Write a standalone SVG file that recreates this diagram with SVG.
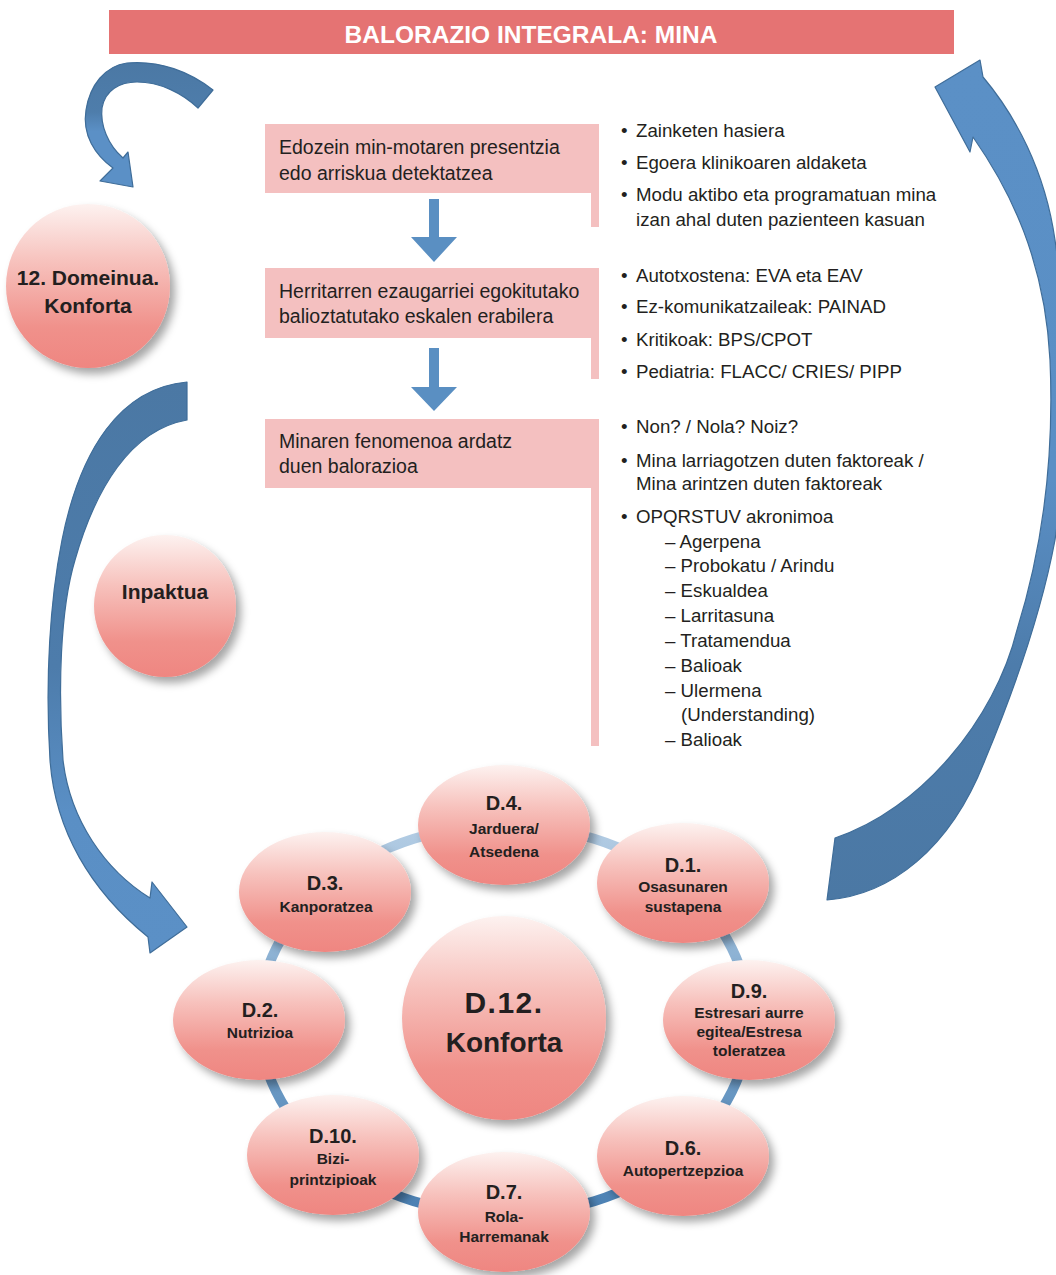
<svg xmlns="http://www.w3.org/2000/svg" width="1056" height="1275" viewBox="0 0 1056 1275">
<defs>
<style>
.t{font-family:"Liberation Sans",Arial,sans-serif;fill:#231f20}
.box{fill:#f4c0c0}
.bx{font-size:19.5px}
.bl{font-size:18.7px}
.nb{font-weight:bold;text-anchor:middle}
.h{font-size:20px}
.s{font-size:15.5px}
.node{fill:url(#pg);filter:url(#sh)}
.arr{stroke:#3f6d99;stroke-width:1.2;stroke-linejoin:round}
</style>
<linearGradient id="pg" x1="0" y1="0" x2="0" y2="1">
<stop offset="0" stop-color="#fdf2f0"/>
<stop offset="0.35" stop-color="#f7c2bd"/>
<stop offset="0.75" stop-color="#f0918b"/>
<stop offset="1" stop-color="#ef8681"/>
</linearGradient>
<linearGradient id="ring" gradientUnits="userSpaceOnUse" x1="0" y1="825" x2="0" y2="1215">
<stop offset="0" stop-color="#b4cde4"/>
<stop offset="0.5" stop-color="#7aa5cc"/>
<stop offset="1" stop-color="#4a80b3"/>
</linearGradient>
<linearGradient id="ga" gradientUnits="userSpaceOnUse" x1="0" y1="60" x2="0" y2="190">
<stop offset="0" stop-color="#4b78a4"/>
<stop offset="0.4" stop-color="#4e7dab"/>
<stop offset="0.55" stop-color="#5b90c6"/>
<stop offset="1" stop-color="#5b90c6"/>
</linearGradient>
<linearGradient id="gb" gradientUnits="userSpaceOnUse" x1="0" y1="380" x2="0" y2="955">
<stop offset="0" stop-color="#4b78a4"/>
<stop offset="0.5" stop-color="#4d7cab"/>
<stop offset="0.75" stop-color="#5a8fc5"/>
<stop offset="1" stop-color="#5b90c6"/>
</linearGradient>
<linearGradient id="gc" gradientUnits="userSpaceOnUse" x1="0" y1="60" x2="0" y2="900">
<stop offset="0" stop-color="#5b90c6"/>
<stop offset="0.5" stop-color="#5a8fc5"/>
<stop offset="0.72" stop-color="#4d7cab"/>
<stop offset="1" stop-color="#4b78a4"/>
</linearGradient>
<filter id="sh" x="-20%" y="-20%" width="150%" height="150%">
<feDropShadow dx="5" dy="6" stdDeviation="4" flood-color="#000" flood-opacity="0.35"/>
</filter>
</defs>
<rect width="1056" height="1275" fill="#fff"/>

<g id="title">
<rect x="109" y="10" width="845" height="44" fill="#e57373"/>
<text class="t" x="531" y="43" text-anchor="middle" font-size="24.5" font-weight="bold" style="fill:#fff">BALORAZIO INTEGRALA: MINA</text>
</g>

<g id="connectors">
<path class="arr" fill="url(#ga)" d="M 213,90 C 190,72 160,60 127,63 C 105,66 90,85 86,110 C 82,135 95,155 113,168 L 100,181 L 133,187 L 128,152 L 123,158 C 108,145 100,125 102,108 C 105,90 120,82 137,82 C 160,82 182,93 198,108 Z"/>
<path class="arr" fill="url(#gb)" d="M 187,382 C 120,388 80,450 62,540 C 50,600 45,680 50,760 C 55,830 90,890 148,937 L 150,953 L 187,927 L 152,882 L 150,898 C 105,870 70,820 63,760 C 58,690 60,610 75,560 C 95,490 130,430 187,420 Z"/>
<path class="arr" fill="url(#gc)" d="M 980,60 L 935,87 L 970,152 L 973,137 C 1010,190 1045,260 1050,360 C 1054,450 1045,540 1017,630 C 995,720 920,810 835,838 L 827,900 C 890,895 950,850 985,760 C 1010,700 1040,620 1055,540 C 1070,440 1068,330 1055,240 C 1045,170 1015,115 983,77 Z"/>
<path fill="#5a8fc2" d="M 429,199 H 439 V 237 H 457 L 434,262 L 411,237 H 429 Z"/>
<path fill="#5a8fc2" d="M 429,348 H 439 V 387 H 457 L 434,411 L 411,387 H 429 Z"/>
<ellipse cx="504" cy="1020" rx="245" ry="195" fill="none" stroke="url(#ring)" stroke-width="10"/>
</g>

<g id="box1">
<path class="box" d="M 265,124 H 599 V 227 H 591 V 193 H 265 Z"/>
<text class="t bx" x="279" y="154">Edozein min-motaren presentzia</text>
<text class="t bx" x="279" y="180">edo arriskua detektatzea</text>
</g>
<g id="box2">
<path class="box" d="M 265,268 H 599 V 379 H 591 V 338 H 265 Z"/>
<text class="t bx" x="279" y="298">Herritarren ezaugarriei egokitutako</text>
<text class="t bx" x="279" y="323">balioztatutako eskalen erabilera</text>
</g>
<g id="box3">
<path class="box" d="M 265,419 H 599 V 746 H 591 V 488 H 265 Z"/>
<text class="t bx" x="279" y="448">Minaren fenomenoa ardatz</text>
<text class="t bx" x="279" y="473">duen balorazioa</text>
</g>

<g id="list1" class="t bl">
<text x="621" y="137">•</text><text x="636" y="137">Zainketen hasiera</text>
<text x="621" y="169">•</text><text x="636" y="169">Egoera klinikoaren aldaketa</text>
<text x="621" y="201">•</text><text x="636" y="201">Modu aktibo eta programatuan mina</text>
<text x="636" y="226">izan ahal duten pazienteen kasuan</text>
</g>
<g id="list2" class="t bl">
<text x="621" y="282">•</text><text x="636" y="282">Autotxostena: EVA eta EAV</text>
<text x="621" y="313">•</text><text x="636" y="313">Ez-komunikatzaileak: PAINAD</text>
<text x="621" y="346">•</text><text x="636" y="346">Kritikoak: BPS/CPOT</text>
<text x="621" y="378">•</text><text x="636" y="378">Pediatria: FLACC/ CRIES/ PIPP</text>
</g>
<g id="list3" class="t bl">
<text x="621" y="433">•</text><text x="636" y="433">Non? / Nola? Noiz?</text>
<text x="621" y="467">•</text><text x="636" y="467">Mina larriagotzen duten faktoreak /</text>
<text x="636" y="490">Mina arintzen duten faktoreak</text>
<text x="621" y="523">•</text><text x="636" y="523">OPQRSTUV akronimoa</text>
<text x="665" y="548">– Agerpena</text>
<text x="665" y="572">– Probokatu / Arindu</text>
<text x="665" y="597">– Eskualdea</text>
<text x="665" y="622">– Larritasuna</text>
<text x="665" y="647">– Tratamendua</text>
<text x="665" y="672">– Balioak</text>
<text x="665" y="697">– Ulermena</text>
<text x="681" y="721">(Understanding)</text>
<text x="665" y="746">– Balioak</text>
</g>

<g id="domeinua">
<circle class="node" cx="88" cy="286" r="82"/>
<text class="t nb" x="88" y="285" font-size="21">12. Domeinua.</text>
<text class="t nb" x="88" y="313" font-size="21">Konforta</text>
</g>
<g id="inpaktua">
<circle class="node" cx="165" cy="606" r="71"/>
<text class="t nb" x="165" y="599" font-size="21">Inpaktua</text>
</g>

<g id="d4">
<ellipse class="node" cx="504" cy="825" rx="86" ry="60"/>
<text class="t nb h" x="504" y="810">D.4.</text>
<text class="t nb s" x="504" y="834">Jarduera/</text>
<text class="t nb s" x="504" y="857">Atsedena</text>
</g>
<g id="d3">
<ellipse class="node" cx="325" cy="892" rx="86" ry="60"/>
<text class="t nb h" x="325" y="890">D.3.</text>
<text class="t nb s" x="326" y="912">Kanporatzea</text>
</g>
<g id="d1">
<ellipse class="node" cx="683" cy="883" rx="86" ry="60"/>
<text class="t nb h" x="683" y="872">D.1.</text>
<text class="t nb s" x="683" y="892">Osasunaren</text>
<text class="t nb s" x="683" y="912">sustapena</text>
</g>
<g id="d2">
<ellipse class="node" cx="259" cy="1020" rx="86" ry="60"/>
<text class="t nb h" x="260" y="1017">D.2.</text>
<text class="t nb s" x="260" y="1038">Nutrizioa</text>
</g>
<g id="d9">
<ellipse class="node" cx="749" cy="1020" rx="86" ry="60"/>
<text class="t nb h" x="749" y="998">D.9.</text>
<text class="t nb s" x="749" y="1018">Estresari aurre</text>
<text class="t nb s" x="749" y="1037">egitea/Estresa</text>
<text class="t nb s" x="749" y="1056">toleratzea</text>
</g>
<g id="d10">
<ellipse class="node" cx="333" cy="1155" rx="86" ry="60"/>
<text class="t nb h" x="333" y="1143">D.10.</text>
<text class="t nb s" x="333" y="1164">Bizi-</text>
<text class="t nb s" x="333" y="1185">printzipioak</text>
</g>
<g id="d6">
<ellipse class="node" cx="683" cy="1156" rx="86" ry="60"/>
<text class="t nb h" x="683" y="1155">D.6.</text>
<text class="t nb s" x="683" y="1176">Autopertzepzioa</text>
</g>
<g id="d7">
<ellipse class="node" cx="504" cy="1212" rx="86" ry="60"/>
<text class="t nb h" x="504" y="1199">D.7.</text>
<text class="t nb s" x="504" y="1222">Rola-</text>
<text class="t nb s" x="504" y="1242">Harremanak</text>
</g>
<g id="d12">
<circle class="node" cx="504" cy="1018" r="102"/>
<text class="t nb" x="504" y="1013" font-size="30" letter-spacing="1.5">D.12.</text>
<text class="t nb" x="504" y="1052" font-size="28">Konforta</text>
</g>
</svg>
